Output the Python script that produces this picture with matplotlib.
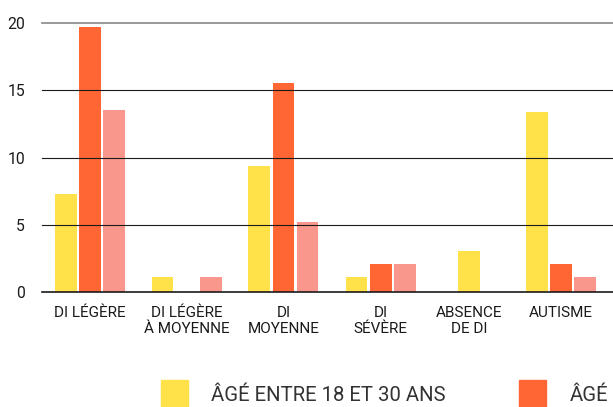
import numpy as np
import matplotlib.pyplot as plt
from matplotlib.patches import Rectangle

# categories and values (percent); nan = no value for that group
categories = ['DI LÉGÈRE', 'DI LÉGÈRE\nÀ MOYENNE', 'DI\nMOYENNE', 'DI\nSÉVÈRE',
              'ABSENCE\nDE DI', 'AUTISME']
serie_18_30 = [7.3, 1.1, 9.4, 1.1, 3.1, 13.4]
serie_2 = [19.7, 0.0, 15.5, 2.1, np.nan, 2.1]
serie_3 = [13.5, 1.1, 5.2, 2.1, np.nan, 1.1]
labels = ['ÂGÉ ENTRE 18 ET 30 ANS', 'ÂGÉ', '']
colors = ['#FFE24A', '#FF6633', '#F9978C']
yticks = [0, 5, 10, 15, 20]

# category centres as placed in the original layout (not evenly spaced)
cat_x = np.array([0, 1, 2, 3.006, 3.92, 4.87])

plt.rcParams['font.family'] = ['Roboto', 'DejaVu Sans']

fig = plt.figure(figsize=(6.13, 4.07), dpi=100)
ax = fig.add_axes([0.068, 0.2818, 0.932, 0.662])

series = np.array([serie_18_30, serie_2, serie_3], dtype=float)
step = 0.25
width = 0.224
present = ~np.isnan(series)
# bars inside a category are centred over the groups that have a value
rank = np.cumsum(present, axis=0) - 1
count = present.sum(axis=0)
offsets = (rank - (count - 1) / 2) * step
for i, c in enumerate(colors):
    m = present[i]
    ax.bar(cat_x[m] + offsets[i][m], series[i][m], width, color=c, zorder=1)

ax.set_xlim(-0.5, 5.408)
ax.set_ylim(0, 20)
ax.set_yticks(yticks)
ax.set_xticks(cat_x)
ax.set_xticklabels(categories, fontsize=11, color='#1a1a1a', linespacing=1.2)
ax.tick_params(axis='y', length=0, pad=12, labelsize=11.3, labelcolor='#1a1a1a')
ax.tick_params(axis='x', length=0, pad=10)
for s in ax.spines.values():
    s.set_visible(False)

ax.set_axisbelow(False)
ax.yaxis.grid(True, color='#1a1a1a', lw=0.8)
for gl in ax.yaxis.get_gridlines():
    gl.set_clip_on(False)
ax.yaxis.get_gridlines()[0].set_linewidth(1.2)
ax.yaxis.get_gridlines()[-1].set_color('#888888')
ax.yaxis.get_gridlines()[-1].set_linewidth(1.2)

# legend (the chart is cropped at the right, only two entries visible)
leg_x = [161, 519]
for lx, lab, c in zip(leg_x, labels[:2], colors[:2]):
    fig.add_artist(Rectangle((lx / 613, 0.0), 27 / 613, 27 / 407,
                             transform=fig.transFigure, color=c))
    fig.text((lx + 50.5) / 613, 11.5 / 407, lab, fontsize=14.6,
             color='#333333', va='center', ha='left')

fig.savefig('out.png', dpi=100)
